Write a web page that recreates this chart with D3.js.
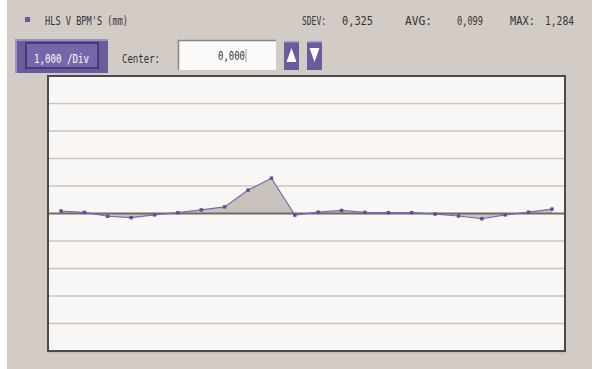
<!DOCTYPE html>
<html><head><meta charset="utf-8">
<script src="https://cdn.jsdelivr.net/npm/d3@7/dist/d3.min.js"></script>
<style>html,body{margin:0;padding:0;background:#fff;}svg{display:block;}</style>
</head><body>
<script>
const title = "HLS V BPM'S (mm)";
const stats = [["SDEV:", "0,325"], ["AVG:", "0,099"], ["MAX:", "1,284"]];
const scaleLabel = "1,000 /Div";
const centerLabel = "Center:";
const centerValue = "0,000";
const yTicks = [-5, -4, -3, -2, -1, 0, 1, 2, 3, 4, 5];
const bpmIndex = d3.range(22);
const bpmValues = [0.09, 0.04, -0.10, -0.15, -0.05, 0.03, 0.13, 0.24, 0.85, 1.284, -0.06,
                   0.05, 0.11, 0.04, 0.03, 0.03, -0.02, -0.09, -0.19, -0.05, 0.05, 0.16];

const W = 595, H = 369;
const svg = d3.select("body").append("svg").attr("width", W).attr("height", H);
const font = "'DejaVu Sans Mono', monospace";
const purple = "#6a5b9c";

// background panel
svg.append("rect").attr("x", 0).attr("y", 0).attr("width", W).attr("height", H).attr("fill", "#fff");
svg.append("rect").attr("x", 7).attr("y", 0).attr("width", 585).attr("height", H).attr("fill", "#d3ccc6");

function txt(s, x, y, len, opts = {}) {
  return svg.append("text").attr("x", x).attr("y", y).text(s)
    .attr("font-family", font).attr("font-size", opts.size || 12)
    .attr("fill", opts.fill || "#333")
    .attr("textLength", len).attr("lengthAdjust", "spacingAndGlyphs");
}

// header
svg.append("rect").attr("x", 25).attr("y", 17).attr("width", 5).attr("height", 5).attr("fill", purple);
txt(title, 45, 25, 83);
const statPos = [[302, 24, 342, 31], [405, 27, 457, 26], [510, 25, 545, 29]];
stats.forEach((s, i) => {
  const p = statPos[i];
  txt(s[0], p[0], 25, p[1]);
  txt(s[1], p[2], 25, p[3]);
});

// scale button
svg.append("rect").attr("x", 15).attr("y", 39).attr("width", 93).attr("height", 34).attr("fill", purple);
svg.append("rect").attr("x", 15).attr("y", 39).attr("width", 93).attr("height", 2).attr("fill", "#9c90c4");
svg.append("rect").attr("x", 15).attr("y", 39).attr("width", 2).attr("height", 34).attr("fill", "#9c90c4");
svg.append("rect").attr("x", 26).attr("y", 43).attr("width", 72).attr("height", 25)
  .attr("fill", "#7466a8").attr("stroke", "#3b2f66").attr("stroke-width", 1.5);
txt(scaleLabel, 34, 63, 55, {fill: "#fff"});

// center label and input
txt(centerLabel, 122, 63, 38);
svg.append("rect").attr("x", 178).attr("y", 40).attr("width", 98).attr("height", 30).attr("fill", "#fbfaf8");
svg.append("path").attr("d", "M178.5,70 V40.5 H276").attr("fill", "none").attr("stroke", "#8a8580").attr("stroke-width", 1.5);
txt(centerValue, 218, 60, 27);
svg.append("line").attr("x1", 246).attr("x2", 246).attr("y1", 49).attr("y2", 62).attr("stroke", "#999").attr("stroke-width", 1);

// arrow buttons
[[284, "up"], [307, "down"]].forEach(([bx, dir]) => {
  svg.append("rect").attr("x", bx).attr("y", 41).attr("width", 15).attr("height", 29).attr("fill", purple);
  svg.append("rect").attr("x", bx).attr("y", 41).attr("width", 15).attr("height", 1.5).attr("fill", "#a89ccc");
  const cx = bx + 7.5;
  const d = dir === "up"
    ? `M${cx},48 L${cx + 5},62 L${cx - 5},62 Z`
    : `M${cx - 5},48 L${cx + 5},48 L${cx},62 Z`;
  svg.append("path").attr("d", d).attr("fill", "#fff");
});

// plot
const L = 48, R = 565, T = 76, B = 351;
const x = d3.scaleLinear().domain([0, 21]).range([61, 552]);
const y = d3.scaleLinear().domain([-5, 5]).range([B, T]);

svg.append("rect").attr("x", L).attr("y", T).attr("width", R - L).attr("height", B - T).attr("fill", "#f8f7f5");

const grid = svg.append("g");
grid.selectAll("line").data(yTicks.filter(t => t !== 0 && t !== -5 && t !== 5)).join("line")
  .attr("x1", L).attr("x2", R).attr("y1", d => y(d)).attr("y2", d => y(d))
  .attr("stroke", "#cbc4be").attr("stroke-width", 1.5);

const area = d3.area().x((d, i) => x(bpmIndex[i])).y0(y(0)).y1(d => y(d));
svg.append("path").datum(bpmValues).attr("d", area).attr("fill", "#c9c1bb");

svg.append("line").attr("x1", L).attr("x2", R).attr("y1", y(0)).attr("y2", y(0))
  .attr("stroke", "#6e6a68").attr("stroke-width", 1.8);

const line = d3.line().x((d, i) => x(bpmIndex[i])).y(d => y(d));
svg.append("path").datum(bpmValues).attr("d", line).attr("fill", "none")
  .attr("stroke", "#7a6aa8").attr("stroke-width", 1.2);

svg.append("g").selectAll("rect").data(bpmValues).join("rect")
  .attr("x", (d, i) => x(bpmIndex[i]) - 1.7).attr("y", d => y(d) - 1.7)
  .attr("width", 3.4).attr("height", 3.4).attr("fill", "#5e4e90");

// border
svg.append("rect").attr("x", L).attr("y", T).attr("width", R - L).attr("height", B - T)
  .attr("fill", "none").attr("stroke", "#4d4b4a").attr("stroke-width", 2);
svg.append("line").attr("x1", L).attr("x2", R + 1).attr("y1", B + 2).attr("y2", B + 2).attr("stroke", "#b9b3ae").attr("stroke-width", 1);
</script>
</body></html>
